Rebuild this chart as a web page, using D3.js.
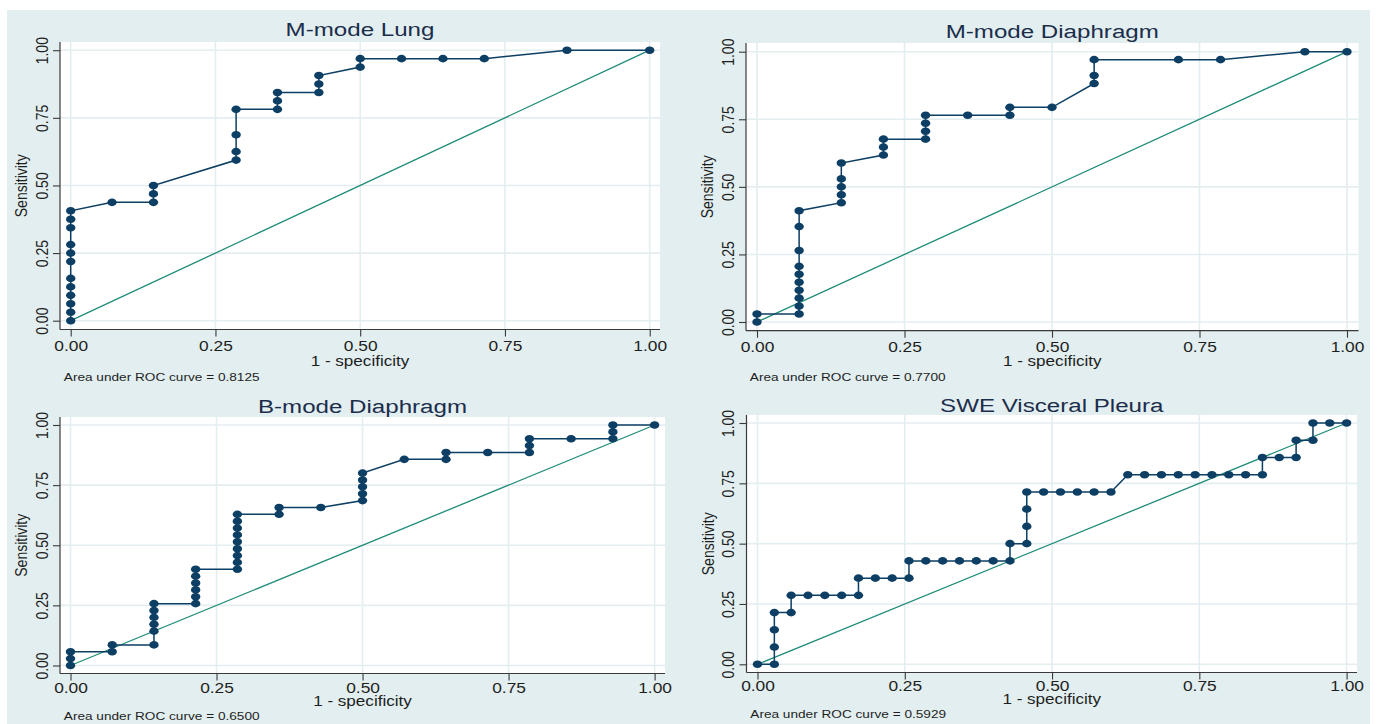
<!DOCTYPE html>
<html>
<head>
<meta charset="utf-8">
<script src="https://cdn.jsdelivr.net/npm/d3@7"></script>
<style>
  html, body { margin: 0; padding: 0; background: #ffffff; }
  svg { display: block; font-family: "Liberation Sans", Arial, Helvetica, sans-serif; }
</style>
</head>
<body>
<svg id="chart" width="1378" height="724"></svg>
<script>
// ---------- data ----------
const tickValues = [0, 0.25, 0.5, 0.75, 1];
const tickLabels = ["0.00", "0.25", "0.50", "0.75", "1.00"];
const titles = ["M-mode Lung", "M-mode Diaphragm", "B-mode Diaphragm", "SWE Visceral Pleura"];
const aucLabels = ["0.8125", "0.7700", "0.6500", "0.5929"];
const xAxisTitle = "1 - specificity";
const yAxisTitle = "Sensitivity";

const lungFpr = [0, 0, 0, 0, 0, 0, 0, 0, 0, 0, 0, 0, 0.0714, 0.1429, 0.1429, 0.1429,
  0.2857, 0.2857, 0.2857, 0.2857, 0.3571, 0.3571, 0.3571, 0.4286, 0.4286, 0.4286,
  0.5, 0.5, 0.5714, 0.6429, 0.7143, 0.8571, 1];
const lungTpr = [0, 0.0313, 0.0625, 0.0938, 0.125, 0.1563, 0.2188, 0.25, 0.2813, 0.3438, 0.375, 0.4063,
  0.4375, 0.4375, 0.4688, 0.5, 0.5938, 0.625, 0.6875, 0.7813, 0.7813, 0.8125, 0.8438,
  0.8438, 0.875, 0.9063, 0.9375, 0.9688, 0.9688, 0.9688, 0.9688, 1, 1];

const mDiaFpr = [0, 0, 0.0714, 0.0714, 0.0714, 0.0714, 0.0714, 0.0714, 0.0714, 0.0714, 0.0714, 0.0714,
  0.1429, 0.1429, 0.1429, 0.1429, 0.1429, 0.2143, 0.2143, 0.2143, 0.2857, 0.2857, 0.2857, 0.2857,
  0.3571, 0.4286, 0.4286, 0.5, 0.5714, 0.5714, 0.5714, 0.7143, 0.7857, 0.9286, 1];
const mDiaTpr = [0, 0.0294, 0.0294, 0.0588, 0.0882, 0.1176, 0.1471, 0.1765, 0.2059, 0.2647, 0.3529, 0.4118,
  0.4412, 0.4706, 0.5, 0.5294, 0.5882, 0.6176, 0.6471, 0.6765, 0.6765, 0.7059, 0.7353, 0.7647,
  0.7647, 0.7647, 0.7941, 0.7941, 0.8824, 0.9118, 0.9706, 0.9706, 0.9706, 1, 1];

const bDiaFpr = [0, 0, 0, 0.0714, 0.0714, 0.1429, 0.1429, 0.1429, 0.1429, 0.1429, 0.1429,
  0.2143, 0.2143, 0.2143, 0.2143, 0.2143, 0.2143,
  0.2857, 0.2857, 0.2857, 0.2857, 0.2857, 0.2857, 0.2857, 0.2857, 0.2857,
  0.3571, 0.3571, 0.4286, 0.5, 0.5, 0.5, 0.5, 0.5, 0.5714, 0.6429, 0.6429, 0.7143,
  0.7857, 0.7857, 0.7857, 0.8571, 0.9286, 0.9286, 0.9286, 1];
const bDiaTpr = [0, 0.0286, 0.0571, 0.0571, 0.0857, 0.0857, 0.1429, 0.1714, 0.2, 0.2286, 0.2571,
  0.2571, 0.2857, 0.3143, 0.3429, 0.3714, 0.4,
  0.4, 0.4286, 0.4571, 0.4857, 0.5143, 0.5429, 0.5714, 0.6, 0.6286,
  0.6286, 0.6571, 0.6571, 0.6857, 0.7143, 0.7429, 0.7714, 0.8, 0.8571, 0.8571, 0.8857, 0.8857,
  0.8857, 0.9143, 0.9429, 0.9429, 0.9429, 0.9714, 1, 1];

const sweFpr = [0, 0.0286, 0.0286, 0.0286, 0.0286, 0.0571, 0.0571, 0.0857, 0.1143, 0.1429, 0.1714, 0.1714,
  0.2, 0.2286, 0.2571, 0.2571, 0.2857, 0.3143, 0.3429, 0.3714, 0.4, 0.4286, 0.4286,
  0.4571, 0.4571, 0.4571, 0.4571, 0.4857, 0.5143, 0.5429, 0.5714, 0.6,
  0.6286, 0.6571, 0.6857, 0.7143, 0.7429, 0.7714, 0.8, 0.8286, 0.8571, 0.8571,
  0.8857, 0.9143, 0.9143, 0.9429, 0.9429, 0.9714, 1];
const sweTpr = [0, 0, 0.0714, 0.1429, 0.2143, 0.2143, 0.2857, 0.2857, 0.2857, 0.2857, 0.2857, 0.3571,
  0.3571, 0.3571, 0.3571, 0.4286, 0.4286, 0.4286, 0.4286, 0.4286, 0.4286, 0.4286, 0.5,
  0.5, 0.5714, 0.6429, 0.7143, 0.7143, 0.7143, 0.7143, 0.7143, 0.7143,
  0.7857, 0.7857, 0.7857, 0.7857, 0.7857, 0.7857, 0.7857, 0.7857, 0.7857, 0.8571,
  0.8571, 0.8571, 0.9286, 0.9286, 1, 1, 1];

const seriesFpr = [lungFpr, mDiaFpr, bDiaFpr, sweFpr];
const seriesTpr = [lungTpr, mDiaTpr, bDiaTpr, sweTpr];

// ---------- layout (pixels) ----------
const panels = [
  { left: 60, right: 660, top: 42, bottom: 329.5, x0: 70.7, x1: 649.7, y0: 320.7, y1: 50.2, tickOff: 21.5, labOff: 36, aucOff: 51, titleOff: 6 },
  { left: 746, right: 1358.5, top: 43, bottom: 330.7, x0: 757, x1: 1347, y0: 322, y1: 51.7, tickOff: 21.5, labOff: 35.5, aucOff: 50, titleOff: 5 },
  { left: 60, right: 665, top: 417, bottom: 673.5, x0: 70.5, x1: 654.6, y0: 665.5, y1: 425, tickOff: 19, labOff: 32, aucOff: 46, titleOff: 4 },
  { left: 746.5, right: 1357, top: 415, bottom: 672.5, x0: 757.5, x1: 1346.6, y0: 664.3, y1: 423, tickOff: 18.5, labOff: 31.5, aucOff: 45.5, titleOff: 3.5 }
];

const C = {
  bg: "#e2eeef", plot: "#ffffff", grid: "#e4edf0", axis: "#3a3a3a", text: "#1e1e1e",
  title: "#1b2d4b", navy: "#0d3e63", diag: "#1f8b78"
};
const SX = 1.24; // horizontal stretch of glyphs in the reference

const svg = d3.select("#chart");
svg.append("rect").attr("x", 7).attr("y", 10).attr("width", 1363).attr("height", 714).attr("fill", C.bg);

panels.forEach((p, i) => {
  const g = svg.append("g");
  const x = d3.scaleLinear().domain([0, 1]).range([p.x0, p.x1]);
  const y = d3.scaleLinear().domain([0, 1]).range([p.y0, p.y1]);

  // plot region
  g.append("rect").attr("x", p.left).attr("y", p.top)
    .attr("width", p.right - p.left).attr("height", p.bottom - p.top).attr("fill", C.plot);

  // grid
  g.selectAll(".gx").data(tickValues).join("line")
    .attr("x1", d => x(d)).attr("x2", d => x(d)).attr("y1", p.top).attr("y2", p.bottom)
    .attr("stroke", C.grid).attr("stroke-width", 1.6);
  g.selectAll(".gy").data(tickValues).join("line")
    .attr("y1", d => y(d)).attr("y2", d => y(d)).attr("x1", p.left).attr("x2", p.right)
    .attr("stroke", C.grid).attr("stroke-width", 1.6);

  // axes
  const xa = g.append("g").attr("transform", `translate(0,${p.bottom})`)
    .call(d3.axisBottom(x).tickValues(tickValues).tickFormat((d, k) => tickLabels[k]).tickSize(7).tickSizeOuter(0));
  xa.select(".domain").remove();
  xa.selectAll("line").attr("stroke", C.axis).attr("stroke-width", 1.1);
  xa.selectAll("text").attr("y", 0).attr("dy", 0)
    .attr("transform", `translate(0,${p.tickOff}) scale(${SX},1)`)
    .attr("font-size", 14).attr("fill", C.text).attr("font-family", null);

  const ya = g.append("g").attr("transform", `translate(${p.left},0)`)
    .call(d3.axisLeft(y).tickValues(tickValues).tickFormat((d, k) => tickLabels[k]).tickSize(7).tickSizeOuter(0));
  ya.select(".domain").remove();
  ya.selectAll("line").attr("stroke", C.axis).attr("stroke-width", 1.1);
  ya.selectAll("text").attr("x", 0).attr("y", 0).attr("dy", 0)
    .attr("text-anchor", "middle")
    .attr("transform", `translate(-12.5,0) scale(${SX},1) rotate(-90)`)
    .attr("font-size", 14).attr("fill", C.text).attr("font-family", null);

  // axis lines (frame left & bottom)
  g.append("line").attr("x1", p.left).attr("x2", p.right).attr("y1", p.bottom).attr("y2", p.bottom)
    .attr("stroke", C.axis).attr("stroke-width", 1.2);
  g.append("line").attr("x1", p.left).attr("x2", p.left).attr("y1", p.top).attr("y2", p.bottom)
    .attr("stroke", C.axis).attr("stroke-width", 1.2);

  // reference diagonal
  g.append("line").attr("x1", x(0)).attr("y1", y(0)).attr("x2", x(1)).attr("y2", y(1))
    .attr("stroke", C.diag).attr("stroke-width", 1.3);

  // ROC curve
  const pts = seriesFpr[i].map((f, k) => [f, seriesTpr[i][k]]);
  g.append("path").datum(pts)
    .attr("d", d3.line().x(d => x(d[0])).y(d => y(d[1])))
    .attr("fill", "none").attr("stroke", C.navy).attr("stroke-width", 1.5);
  g.selectAll(".pt").data(pts).join("ellipse")
    .attr("cx", d => x(d[0])).attr("cy", d => y(d[1]))
    .attr("rx", 4.7).attr("ry", 3.8).attr("fill", C.navy);

  // titles & labels
  const cx = (p.left + p.right) / 2;
  g.append("text").text(titles[i])
    .attr("transform", `translate(${cx},${p.top - p.titleOff}) scale(1.27,1)`)
    .attr("text-anchor", "middle").attr("font-size", 19).attr("fill", C.title);
  g.append("text").text(xAxisTitle)
    .attr("transform", `translate(${cx},${p.bottom + p.labOff}) scale(1.22,1)`)
    .attr("text-anchor", "middle").attr("font-size", 14).attr("fill", C.text);
  g.append("text").text(yAxisTitle)
    .attr("transform", `translate(${p.left - 33},${(p.top + p.bottom) / 2}) scale(1.22,1) rotate(-90)`)
    .attr("text-anchor", "middle").attr("font-size", 14).attr("fill", C.text);
  g.append("text").text("Area under ROC curve = " + aucLabels[i])
    .attr("transform", `translate(${p.left + 3.8},${p.bottom + p.aucOff}) scale(${SX},1)`)
    .attr("font-size", 11).attr("fill", C.text);
});
</script>
</body>
</html>
